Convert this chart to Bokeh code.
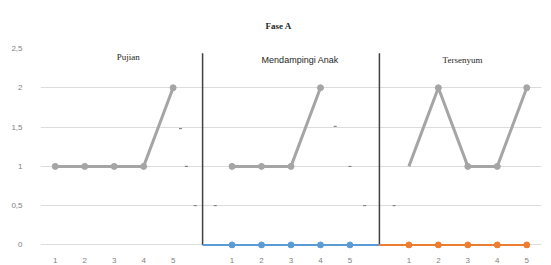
from bokeh.plotting import figure
from bokeh.models import FixedTicker, Label, BoxAnnotation
from bokeh.core.properties import value
from bokeh.embed import file_html
from bokeh.resources import INLINE

# ---- data ----
x_labels = ["1", "2", "3", "4", "5"]
pujian_slots = [1, 2, 3, 4, 5]
pujian_vals = [1, 1, 1, 1, 2]
mendampingi_slots = [7, 8, 9, 10]
mendampingi_vals = [1, 1, 1, 2]
tersenyum_slots = [13, 14, 15, 16, 17]
tersenyum_vals = [1, 2, 1, 1, 2]
blue_slots = [6, 7, 8, 9, 10, 11, 12]
blue_vals = [0, 0, 0, 0, 0, 0, 0]
orange_slots = [12, 13, 14, 15, 16, 17]
orange_vals = [0, 0, 0, 0, 0, 0]
divider_slots = [6, 12]
divider_top = [2.44, 2.44]
stray_x = [5.25, 5.45, 5.75, 6.43, 10.5, 11.0, 11.5, 12.5]
stray_y = [1.48, 1.0, 0.5, 0.5, 1.51, 1.0, 0.5, 0.5]
y_ticks = [0, 0.5, 1, 1.5, 2, 2.5]
y_tick_labels = ["0", "0,5", "1", "1,5", "2", "2,5"]
panel_titles = ["Pujian", "Mendampingi Anak", "Tersenyum"]
panel_title_x = [3.48, 9.31, 14.82]
panel_title_y = [2.39, 2.36, 2.36]
chart_title = "Fase A"

GRAY = "#A5A5A5"
BLUE = "#5B9BD5"
ORANGE = "#ED7D31"

p = figure(width=548, height=265, x_range=(0.5, 17.5), y_range=(-0.045, 2.5),
           output_backend="svg", toolbar_location=None,
           min_border_left=40, min_border_right=7, min_border_top=47, min_border_bottom=14)
p.outline_line_color = None
p.background_fill_color = "white"
p.border_fill_color = "white"

p.title.text = chart_title
p.title.text_font = "Liberation Serif"
p.title.text_font_size = "9px"
p.title.text_font_style = "bold"
p.title.text_color = "#262626"
p.title.align = "left"
p.title.offset = 225
p.title.standoff = 36

# axes
x_tick_positions = pujian_slots + [s + 6 for s in pujian_slots] + [s + 12 for s in pujian_slots]
p.xaxis.ticker = FixedTicker(ticks=x_tick_positions)
p.xaxis.major_label_overrides = {t: x_labels[i % 5] for i, t in enumerate(x_tick_positions)}
p.yaxis.ticker = FixedTicker(ticks=y_ticks)
p.yaxis.major_label_overrides = {t: l for t, l in zip(y_ticks, y_tick_labels)}
for ax in (p.xaxis[0], p.yaxis[0]):
    ax.axis_line_color = None
    ax.major_tick_line_color = None
    ax.minor_tick_line_color = None
    ax.major_label_text_color = "#7F7F7F"
    ax.major_label_text_font = "Liberation Sans"
    ax.major_label_text_font_size = "8px"
p.yaxis.major_label_standoff = 12
p.xaxis.major_label_standoff = 3
p.xgrid.grid_line_color = None
p.ygrid.ticker = FixedTicker(ticks=y_ticks[:-1])
p.ygrid.grid_line_color = "#DCDCDC"
p.ygrid.grid_line_width = 1

# outer chart border
p.add_layout(BoxAnnotation(left=13, right=547, top=8, bottom=270,
                           left_units="canvas", right_units="canvas",
                           top_units="canvas", bottom_units="canvas",
                           fill_color=None, line_color="#E2E2E2", line_width=1))

# dividers
p.segment(x0=divider_slots, y0=[0, 0], x1=divider_slots, y1=divider_top,
          line_color="#404040", line_width=1.5)

# stray small dashes
p.scatter(stray_x, stray_y, marker="dash", size=3, line_color="#707070", line_width=1)

# series
p.line(blue_slots, blue_vals, line_color=BLUE, line_width=2)
p.scatter(blue_slots[1:-1], blue_vals[1:-1], size=6, fill_color=BLUE, line_color=BLUE)
p.line(orange_slots, orange_vals, line_color=ORANGE, line_width=2)
p.scatter(orange_slots[1:], orange_vals[1:], size=6, fill_color=ORANGE, line_color=ORANGE)

for xs, ys, skip_first in ((pujian_slots, pujian_vals, False),
                           (mendampingi_slots, mendampingi_vals, False),
                           (tersenyum_slots, tersenyum_vals, True)):
    p.line(xs, ys, line_color=GRAY, line_width=3)
    mx = xs[1:] if skip_first else xs
    my = ys[1:] if skip_first else ys
    p.scatter(mx, my, size=6, fill_color=GRAY, line_color=GRAY)

# panel titles
fonts = ["Liberation Serif", "Liberation Sans", "Liberation Serif"]
for t, x, y, f in zip(panel_titles, panel_title_x, panel_title_y, fonts):
    p.add_layout(Label(x=x, y=y, text=t, text_font=f, text_font_size="9px",
                       text_align="center", text_baseline="middle", text_color="#262626"))

open("out.html", "w").write(file_html(p, INLINE))
